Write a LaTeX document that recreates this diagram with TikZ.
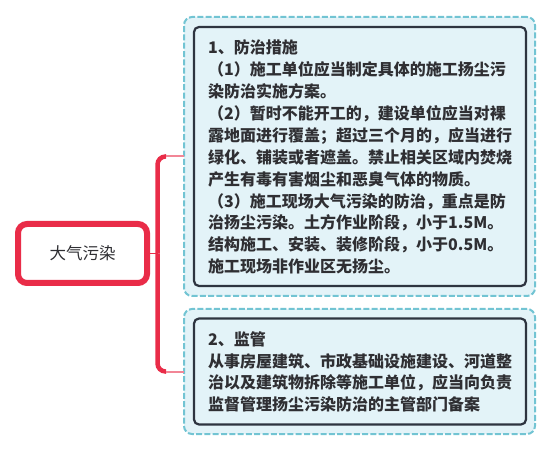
\documentclass[tikz,border=0pt]{standalone}
\usepackage{fontspec}
\setmainfont{Noto Sans CJK SC}
\definecolor{redc}{HTML}{E92C48}
\definecolor{pinkc}{HTML}{F28696}
\definecolor{dashc}{HTML}{72C4D3}
\definecolor{fillc}{HTML}{E3F3F8}
\definecolor{darkc}{HTML}{2E3440}
\definecolor{textc}{HTML}{2F2F33}
\begin{document}
\begin{tikzpicture}[x=1pt,y=1pt,
  outerbox/.style={draw=dashc, line width=2pt, dash pattern=on 6pt off 2.3pt, fill=fillc, rounded corners=8pt, inner sep=0pt, outer sep=0pt},
  innerbox/.style={draw=darkc, line width=2.2pt, fill=fillc, rounded corners=5pt, inner sep=0pt},
  rootbox/.style={draw=redc, line width=6pt, fill=white, rounded corners=9pt, minimum width=129pt, minimum height=59pt, inner sep=0pt, text=textc, font=\fontsize{16.5}{20}\selectfont},
  body/.style={text=textc, font=\bfseries\fontsize{16}{21.9}\selectfont, text width=320pt, align=left, inner sep=0pt, anchor=base west},
  stem/.style={draw=redc, line width=1.2pt},
  trunk/.style={draw=redc, line width=4.5pt, rounded corners=8pt},
  branch/.style={draw=pinkc, line width=2pt}]
\useasboundingbox (0,0) rectangle (553,452);
% root
\node[rootbox] (root) at (82.5,198.5) {大气污染};
% connectors
\coordinate (j) at (157.5,198.5);
\coordinate (k1) at (166,295.5);
\coordinate (k2) at (166,80.5);
\draw[stem] (root.east) -- (j);
\draw[trunk] (j) |- (k1);
\draw[trunk] (j) |- (k2);
\node[outerbox, minimum width=351pt, minimum height=279pt] (o1) at (359.5,295.5) {};
\node[outerbox, minimum width=351pt, minimum height=125pt] (o2) at (359.5,80.5) {};
\draw[branch] (k1) -- (o1.west);
\draw[branch] (k2) -- (o2.west);
\node[innerbox, minimum width=332pt, minimum height=259pt] (i1) at (360,295.5) {};
\node[innerbox, minimum width=332pt, minimum height=106pt] (i2) at (360,80.5) {};
% texts
\node[body] (b1) at (208,398.2) {1、防治措施\\（1）施工单位应当制定具体的施工扬尘污\\染防治实施方案。\\（2）暂时不能开工的，建设单位应当对裸\\露地面进行覆盖；超过三个月的，应当进行\\绿化、铺装或者遮盖。禁止相关区域内焚烧\\产生有毒有害烟尘和恶臭气体的物质。\\（3）施工现场大气污染的防治，重点是防\\治扬尘污染。土方作业阶段，小于1.5M。\\结构施工、安装、装修阶段，小于0.5M。\\施工现场非作业区无扬尘。};
\node[body] (b2) at (208,106.9) {2、监管\\从事房屋建筑、市政基础设施建设、河道整\\治以及建筑物拆除等施工单位，应当向负责\\监督管理扬尘污染防治的主管部门备案};
\end{tikzpicture}
\end{document}
